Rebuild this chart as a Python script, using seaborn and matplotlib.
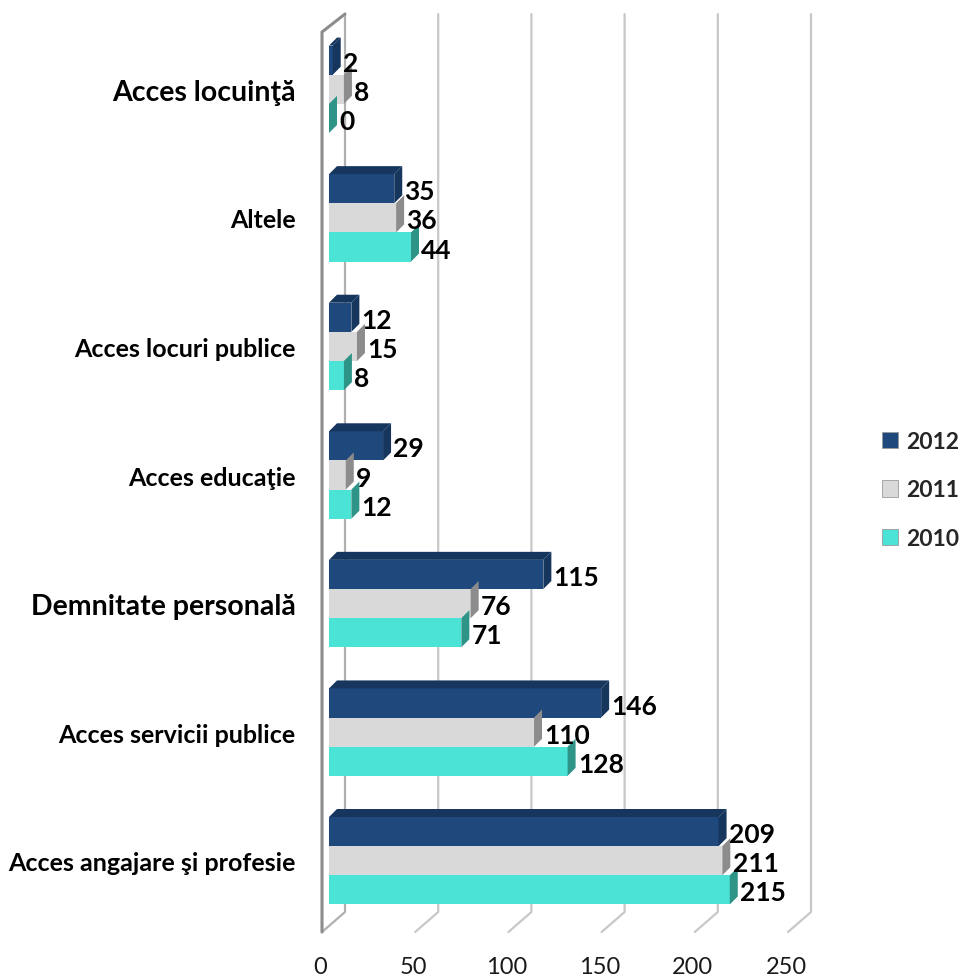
import seaborn as sns
import matplotlib.pyplot as plt
import matplotlib.transforms as mtransforms
from matplotlib.patches import Polygon, Patch
from matplotlib.font_manager import FontProperties
import pandas as pd

# Categories (top to bottom) and values per year
categories = ['Acces locuinţă', 'Altele', 'Acces locuri publice', 'Acces educaţie',
              'Demnitate personală', 'Acces servicii publice', 'Acces angajare şi profesie']
big_labels = ['Acces locuinţă', 'Demnitate personală']
years = ['2012', '2011', '2010']
values_2012 = [2, 35, 12, 29, 115, 146, 209]
values_2011 = [8, 36, 15, 9, 76, 110, 211]
values_2010 = [0, 44, 8, 12, 71, 128, 215]
x_ticks = [0, 50, 100, 150, 200, 250]

front_colors = {'2012': '#1F497D', '2011': '#D9D9D9', '2010': '#4BE3D6'}
side_colors = {'2012': '#17365D', '2011': '#8C8C8C', '2010': '#2E9488'}

series = {'2012': values_2012, '2011': values_2011, '2010': values_2010}
rows = []
for yr in years:
    for cat, v in zip(categories, series[yr]):
        rows.append({'Category': cat, 'Year': yr, 'Value': v})
df = pd.DataFrame(rows)

sns.set_style("white")
plt.rcParams['font.family'] = ['Lato', 'DejaVu Sans']

W, H = 963, 978
fig = plt.figure(figsize=(W / 100, H / 100), dpi=100)
ax_l, ax_r, ax_t, ax_b = 329, 795, 26, 926
ax = fig.add_axes([ax_l / W, 1 - ax_b / H, (ax_r - ax_l) / W, (ax_b - ax_t) / H])

sns.barplot(data=df, y='Category', x='Value', hue='Year', hue_order=years,
            order=categories, palette=front_colors, orient='h', width=0.68,
            saturation=1, linewidth=0, legend=False, ax=ax)

ax.set_xlim(0, 250)
ax.set_ylim(len(categories) - 0.5, -0.5)

# pseudo-3D depth of the bars, in data units
depth_px = 8
dx = depth_px / ((ax_r - ax_l) / 250)
dy = depth_px / ((ax_b - ax_t) / len(categories))

# back-wall gridlines, floor diagonals and left wall (pixel coords)
ident = mtransforms.IdentityTransform()
def px(x, y):
    return x, H - y

for t in x_ticks:
    xf = ax.transData.transform((t, 0))[0]
    bx, by = xf + 16, ax_b - 13
    fx, fy = xf - 7, ax_b + 7
    col = '#C8C8C8' if t > 0 else '#B0B0B0'
    top_y = 15
    ax.plot(*zip(px(bx, top_y), px(bx, by), px(fx, fy)), color=col, lw=1.6,
            transform=ident, zorder=0, clip_on=False)
    if t == 0:
        ax.plot(*zip(px(bx, top_y), px(fx, top_y + 18), px(fx, fy)), color='#8C8C8C',
                lw=2.2, transform=ident, zorder=0.5, clip_on=False)

bars = [p for p in ax.patches]
for i, p in enumerate(bars):
    yr = years[i // len(categories)]
    x0, y0, w, h = p.get_x(), p.get_y(), p.get_width(), p.get_height()
    side = Polygon([(x0 + w, y0), (x0 + w, y0 + h), (x0 + w + dx, y0 + h - dy),
                    (x0 + w + dx, y0 - dy)], closed=True, facecolor=side_colors[yr],
                   edgecolor='none', zorder=1.5)
    ax.add_patch(side)
    if yr == '2012':
        top = Polygon([(x0, y0), (x0 + w, y0), (x0 + w + dx, y0 - dy), (x0 + dx, y0 - dy)],
                      closed=True, facecolor=side_colors[yr], edgecolor='none', zorder=1.5)
        ax.add_patch(top)
    ax.text(x0 + w + dx + 1.2, y0 + h / 2 + 0.02, f'{int(w)}', va='center', ha='left',
            fontsize=19, fontweight='bold', color='black', zorder=3)

for s in ax.spines.values():
    s.set_visible(False)

ax.set_xticks(x_ticks)
ax.set_xticklabels([str(t) for t in x_ticks], fontsize=17, color='#1a1a1a')
ax.tick_params(axis='x', length=0, pad=22)
ax.tick_params(axis='y', length=0, pad=24)
ax.set_xlabel('')
ax.set_ylabel('')
shift = mtransforms.ScaledTranslation(-9 / 100, 0, fig.dpi_scale_trans)
for lbl in ax.get_xticklabels():
    lbl.set_transform(lbl.get_transform() + shift)
for lbl in ax.get_yticklabels():
    if lbl.get_text() in big_labels:
        lbl.set_fontsize(20.5)
    else:
        lbl.set_fontsize(18)
    lbl.set_fontweight('bold')
    lbl.set_color('black')

handles = [Patch(facecolor=front_colors[y], edgecolor='#9a9a9a', linewidth=0.6) for y in years]
leg_font = FontProperties(family=['Lato', 'DejaVu Sans'], weight='bold', size=16.5)
leg = fig.legend(handles, years, loc='center left', bbox_to_anchor=(882 / W, 1 - 491 / H),
                 frameon=False, prop=leg_font, handlelength=0.7,
                 handleheight=0.7, handletextpad=0.35, labelspacing=1.2, borderpad=0,
                 borderaxespad=0)

plt.savefig('out.png', dpi=100, facecolor='white')
